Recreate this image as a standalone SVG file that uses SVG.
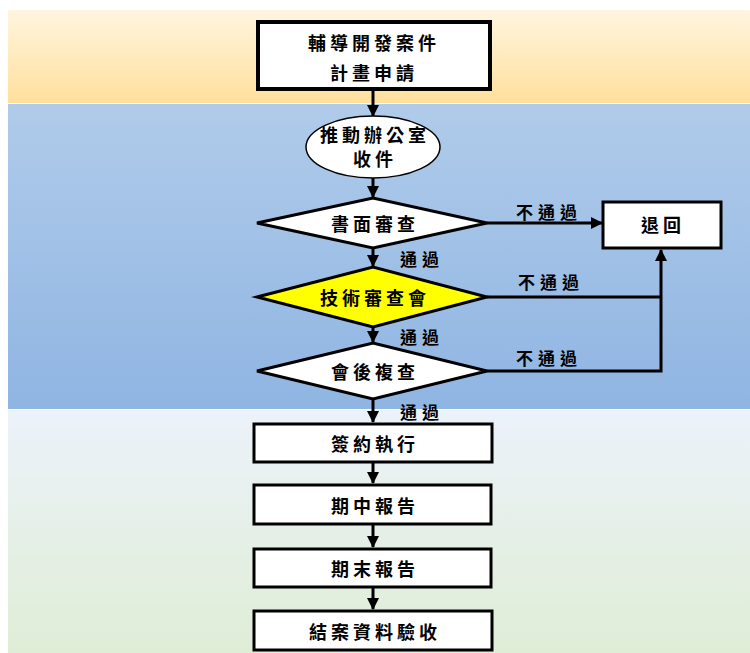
<svg xmlns="http://www.w3.org/2000/svg" width="750" height="653" viewBox="0 0 750 653">
<defs>
<linearGradient id="gOrange" x1="0" y1="0" x2="0" y2="1"><stop offset="0" stop-color="#FFF5E0"/><stop offset="1" stop-color="#FFE09C"/></linearGradient>
<linearGradient id="gBlue" x1="0" y1="0" x2="0" y2="1"><stop offset="0" stop-color="#B0CBEA"/><stop offset="1" stop-color="#8FB5E2"/></linearGradient>
<linearGradient id="gGreen" x1="0" y1="0" x2="0" y2="1"><stop offset="0" stop-color="#ECF2FA"/><stop offset="1" stop-color="#DFEDD6"/></linearGradient>
<marker id="arr" markerUnits="userSpaceOnUse" markerWidth="12" markerHeight="12" refX="11" refY="6" orient="auto"><path d="M0,0 L12,6 L0,12 Z" fill="#000"/></marker>
</defs>
<style>
.box{fill:#fff;stroke:#000;stroke-width:3}
.t{font-family:"Noto Sans CJK TC","Noto Sans CJK SC",sans-serif;font-weight:bold;font-size:18px;letter-spacing:4px;fill:#000;text-anchor:middle;dominant-baseline:central}
.lbl{font-family:"Noto Sans CJK TC","Noto Sans CJK SC",sans-serif;font-weight:bold;font-size:17px;letter-spacing:5px;fill:#000;text-anchor:middle;dominant-baseline:central}
.ln{fill:none;stroke:#000;stroke-width:3}
</style>
<g id="bands">
<rect x="8" y="10" width="742" height="93" fill="url(#gOrange)"/>
<rect x="8" y="104" width="742" height="305" fill="url(#gBlue)"/>
<rect x="8" y="410" width="742" height="243" fill="url(#gGreen)"/>
</g>
<g id="connectors">
<line class="ln" x1="373" y1="90" x2="373" y2="116" marker-end="url(#arr)"/>
<line class="ln" x1="373" y1="178" x2="373" y2="197" marker-end="url(#arr)"/>
<line class="ln" x1="373" y1="248" x2="373" y2="266" marker-end="url(#arr)"/>
<line class="ln" x1="373" y1="327" x2="373" y2="342" marker-end="url(#arr)"/>
<line class="ln" x1="373" y1="399" x2="373" y2="422" marker-end="url(#arr)"/>
<line class="ln" x1="373" y1="462" x2="373" y2="483" marker-end="url(#arr)"/>
<line class="ln" x1="373" y1="524" x2="373" y2="547" marker-end="url(#arr)"/>
<line class="ln" x1="373" y1="587" x2="373" y2="609" marker-end="url(#arr)"/>
<line class="ln" x1="487" y1="223" x2="602" y2="223" marker-end="url(#arr)"/>
<line class="ln" x1="487" y1="297" x2="661" y2="297"/>
<path class="ln" d="M487,371 H661 V250" marker-end="url(#arr)"/>
<text class="lbl" x="549" y="211">不通過</text>
<text class="lbl" x="551" y="281">不通過</text>
<text class="lbl" x="549" y="357">不通過</text>
<text class="lbl" x="422" y="258">通過</text>
<text class="lbl" x="422" y="336">通過</text>
<text class="lbl" x="422" y="411">通過</text>
</g>
<g id="n-apply">
<rect x="258" y="22" width="232" height="67" fill="#fff" stroke="#000" stroke-width="4"/>
<text class="t" x="374" y="42">輔導開發案件</text>
<text class="t" x="374" y="72">計畫申請</text>
</g>
<g id="n-receive">
<ellipse cx="373" cy="147" rx="67" ry="31" fill="#fff" stroke="#000" stroke-width="1.5"/>
<text class="t" x="375" y="134">推動辦公室</text>
<text class="t" x="375" y="158">收件</text>
</g>
<g id="n-doc">
<polygon class="box" points="257,223 373,198 487,223 373,248"/>
<text class="t" x="375" y="223">書面審查</text>
</g>
<g id="n-tech">
<polygon class="box" points="257,297 373,267 487,297 373,327" style="fill:#FFFF00"/>
<text class="t" x="375" y="297">技術審查會</text>
</g>
<g id="n-recheck">
<polygon class="box" points="257,371 373,343 487,371 373,399"/>
<text class="t" x="375" y="371">會後複查</text>
</g>
<g id="n-return">
<rect class="box" x="603" y="202" width="118" height="46"/>
<text class="t" x="663" y="224">退回</text>
</g>
<g id="n-sign">
<rect class="box" x="254" y="424" width="238" height="38"/>
<text class="t" x="375" y="443">簽約執行</text>
</g>
<g id="n-mid">
<rect class="box" x="254" y="485" width="237" height="39"/>
<text class="t" x="375" y="505">期中報告</text>
</g>
<g id="n-final">
<rect class="box" x="254" y="549" width="237" height="38"/>
<text class="t" x="375" y="568">期末報告</text>
</g>
<g id="n-close">
<rect class="box" x="254" y="611" width="238" height="39"/>
<text class="t" x="375" y="631">結案資料驗收</text>
</g>
</svg>
